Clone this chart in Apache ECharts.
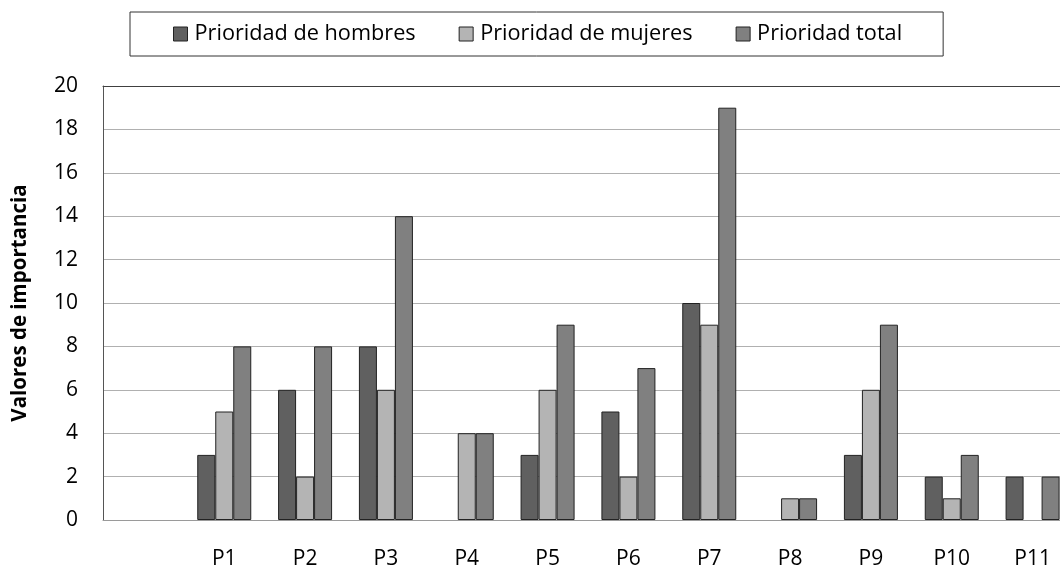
<!DOCTYPE html>
<html>
<head>
<meta charset="utf-8">
<script src="https://cdn.jsdelivr.net/npm/echarts@6/dist/echarts.min.js"></script>
<style>html,body{margin:0;padding:0;background:#fff;overflow:hidden;}#c{width:1090px;height:570px;}</style>
</head>
<body>
<div id="c"></div>
<script>
const categories = ['', 'P1', 'P2', 'P3', 'P4', 'P5', 'P6', 'P7', 'P8', 'P9', 'P10', 'P11'];
const hombres = [null, 3, 6, 8, 0, 3, 5, 10, 0, 3, 2, 2];
const mujeres = [null, 5, 2, 6, 4, 6, 2, 9, 1, 6, 1, 0];
const total   = [null, 8, 8, 14, 4, 9, 7, 19, 1, 9, 3, 2];
const seriesNames = ['Prioridad de hombres', 'Prioridad de mujeres', 'Prioridad total'];
const yTicks = [0, 2, 4, 6, 8, 10, 12, 14, 16, 18, 20];

const FONT = '"Open Sans", "Liberation Sans", sans-serif';
const colors = ['#606060', '#b4b4b4', '#808080'];

const chart = echarts.init(document.getElementById('c'), null, {renderer: 'canvas'});
function mk(name, data, color) {
  return {
    name: name, type: 'bar',
    // zero values draw no visible bar in the reference
    data: data.map(v => (v === 0 ? null : v)),
    barWidth: 18, barGap: '0%',
    itemStyle: {color: color, borderColor: '#222', borderWidth: 1},
    emphasis: {disabled: true}
  };
}
chart.setOption({
  animation: false,
  color: colors,
  grid: {left: 103, top: 86, width: 970, height: 434, containLabel: false},
  legend: {
    data: seriesNames,
    left: 130, top: 12,
    borderColor: '#333', borderWidth: 1,
    padding: [11, 41, 11, 43],
    itemWidth: 14, itemHeight: 14, itemGap: 43,
    icon: 'rect',
    itemStyle: {borderColor: '#222', borderWidth: 1},
    textStyle: {fontFamily: FONT, fontSize: 21.7, color: '#000', padding: [0, 0, 0, 2]}
  },
  xAxis: [{
    type: 'category', data: categories,
    axisLine: {show: true, lineStyle: {color: '#9a9a9a', width: 1}},
    axisTick: {show: false},
    axisLabel: {fontFamily: FONT, fontSize: 21, color: '#000', margin: 29}
  }, {
    type: 'category', data: categories, position: 'top',
    axisLine: {show: true, lineStyle: {color: '#404040', width: 1}},
    axisTick: {show: false}, axisLabel: {show: false}
  }],
  yAxis: {
    type: 'value', min: yTicks[0], max: yTicks[yTicks.length - 1], interval: 2,
    name: 'Valores de importancia', nameLocation: 'middle', nameGap: 72,
    nameTextStyle: {fontFamily: FONT, fontSize: 20.5, fontWeight: 'bold', color: '#000'},
    axisLine: {show: true, lineStyle: {color: '#555', width: 1}},
    axisTick: {show: false},
    axisLabel: {fontFamily: FONT, fontSize: 21, color: '#000', margin: 25},
    splitLine: {show: true, lineStyle: {color: '#b0b0b0', width: 1}}
  },
  series: [mk(seriesNames[0], hombres, colors[0]), mk(seriesNames[1], mujeres, colors[1]), mk(seriesNames[2], total, colors[2])]
});
</script>
</body>
</html>
